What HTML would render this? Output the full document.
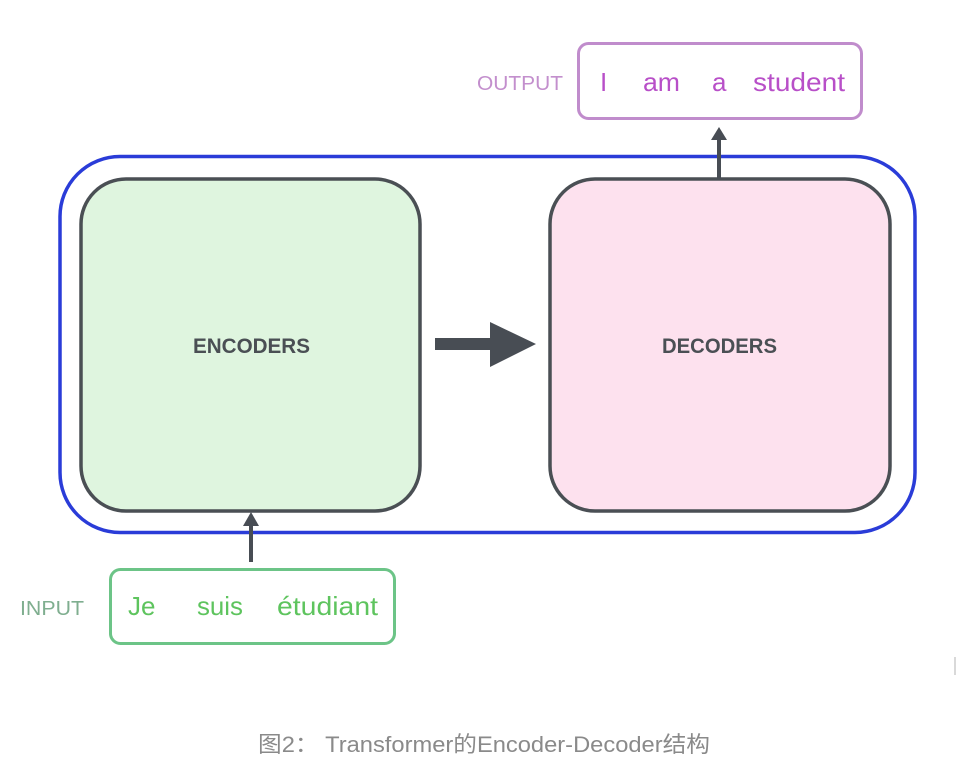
<!DOCTYPE html>
<html>
<head>
<meta charset="utf-8">
<style>
  html, body { margin:0; padding:0; background:#ffffff; }
  body { width:956px; height:776px; overflow:hidden; }
  svg { display:block; }
  text { font-family: "Liberation Sans", "Noto Sans CJK SC", sans-serif; }
</style>
</head>
<body>
<svg width="956" height="776" viewBox="0 0 956 776" xmlns="http://www.w3.org/2000/svg">
  <!-- outer blue container -->
  <rect x="60" y="156.5" width="855" height="376" rx="60" ry="60" fill="none" stroke="#2a3cd8" stroke-width="3.5"/>

  <!-- encoders box -->
  <rect x="81" y="179" width="339" height="332" rx="45" ry="45" fill="#dff5df" stroke="#4a4f54" stroke-width="3.5"/>
  <text x="193" y="353" font-size="21" font-weight="bold" fill="#4a4f54" textLength="117" lengthAdjust="spacingAndGlyphs">ENCODERS</text>

  <!-- decoders box -->
  <rect x="550" y="179" width="340" height="332" rx="45" ry="45" fill="#fde1ee" stroke="#4a4f54" stroke-width="3.5"/>
  <text x="662" y="353" font-size="21" font-weight="bold" fill="#4a4f54" textLength="115" lengthAdjust="spacingAndGlyphs">DECODERS</text>

  <!-- middle arrow -->
  <rect x="435" y="338" width="57" height="12" fill="#484d54"/>
  <polygon points="490,322 536,344 490,367" fill="#484d54"/>

  <!-- output box -->
  <rect x="578.5" y="43.5" width="283" height="75" rx="10" ry="10" fill="#ffffff" stroke="#c08ccc" stroke-width="3"/>
  <text x="477" y="90" font-size="20" fill="#c38fcd" textLength="86" lengthAdjust="spacingAndGlyphs">OUTPUT</text>
  <text x="600" y="91" font-size="26" fill="#b84fc8">I</text>
  <text x="643" y="91" font-size="26" fill="#b84fc8" textLength="37" lengthAdjust="spacingAndGlyphs">am</text>
  <text x="712" y="91" font-size="26" fill="#b84fc8">a</text>
  <text x="753" y="91" font-size="26" fill="#b84fc8" textLength="92" lengthAdjust="spacingAndGlyphs">student</text>

  <!-- decoder -> output arrow -->
  <rect x="717" y="138" width="4" height="41" fill="#484d54"/>
  <polygon points="719,127 727,140 711,140" fill="#484d54"/>

  <!-- input box -->
  <rect x="110.5" y="569.5" width="284" height="74" rx="10" ry="10" fill="#ffffff" stroke="#6cc487" stroke-width="3"/>
  <text x="20" y="615" font-size="20" fill="#7fae8f" textLength="64" lengthAdjust="spacingAndGlyphs">INPUT</text>
  <text x="128" y="615" font-size="26" fill="#5ec45e">Je</text>
  <text x="197" y="615" font-size="26" fill="#5ec45e" textLength="46" lengthAdjust="spacingAndGlyphs">suis</text>
  <text x="277" y="615" font-size="26" fill="#5ec45e" textLength="101" lengthAdjust="spacingAndGlyphs">étudiant</text>

  <!-- input -> encoder arrow -->
  <rect x="249" y="524" width="4" height="38" fill="#484d54"/>
  <polygon points="251,512 259,526 243,526" fill="#484d54"/>

  <!-- tiny edge mark -->
  <line x1="955" y1="657" x2="955" y2="675" stroke="#cccccc" stroke-width="1.5"/>

  <!-- caption -->
  <text x="258" y="752" font-size="22" fill="#8a8a8a" textLength="452" lengthAdjust="spacingAndGlyphs">图2： Transformer的Encoder-Decoder结构</text>
</svg>
</body>
</html>
